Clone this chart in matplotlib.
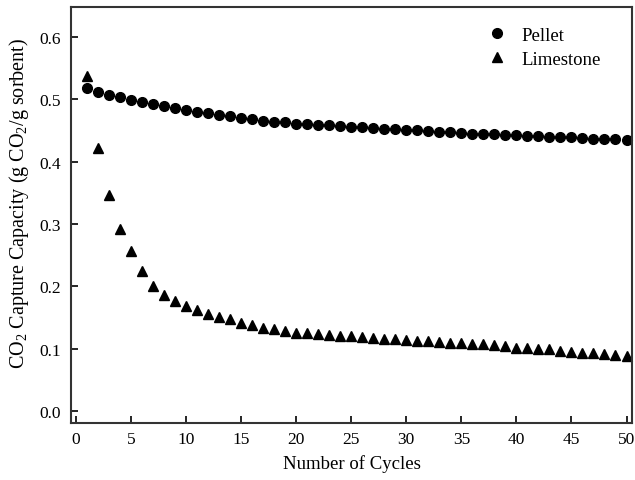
import numpy as np
import matplotlib
matplotlib.use('Agg')
import matplotlib.pyplot as plt

plt.rcParams['font.family'] = ['Liberation Serif', 'DejaVu Serif']
plt.rcParams['mathtext.fontset'] = 'custom'
plt.rcParams['mathtext.rm'] = 'Liberation Serif'
plt.rcParams['mathtext.it'] = 'Liberation Serif:italic'

cycles = np.arange(1, 51)

pellet = [0.518, 0.512, 0.507, 0.503, 0.499, 0.495, 0.492, 0.489, 0.486, 0.483,
          0.480, 0.478, 0.475, 0.473, 0.470, 0.468, 0.466, 0.464, 0.463, 0.461,
          0.460, 0.459, 0.458, 0.457, 0.456, 0.455, 0.454, 0.453, 0.452, 0.451,
          0.450, 0.449, 0.448, 0.447, 0.446, 0.445, 0.444, 0.444, 0.443, 0.442,
          0.441, 0.441, 0.440, 0.439, 0.439, 0.438, 0.437, 0.437, 0.436, 0.435]

limestone = [0.537, 0.422, 0.346, 0.292, 0.256, 0.225, 0.200, 0.186, 0.177, 0.169,
             0.162, 0.156, 0.151, 0.147, 0.141, 0.138, 0.134, 0.132, 0.128, 0.126,
             0.125, 0.123, 0.122, 0.121, 0.120, 0.119, 0.118, 0.116, 0.115, 0.114,
             0.113, 0.112, 0.111, 0.110, 0.109, 0.108, 0.107, 0.106, 0.104, 0.102,
             0.101, 0.100, 0.099, 0.097, 0.095, 0.094, 0.093, 0.092, 0.090, 0.089]

fig = plt.figure(figsize=(6.35, 4.81), dpi=100)
ax = fig.add_axes([0.1118, 0.1185, 0.8835, 0.8649])

ax.plot(cycles, pellet, 'o', color='black', markersize=7, label='Pellet', clip_on=False)
ax.plot(cycles, limestone, '^', color='black', markersize=7.5, label='Limestone', clip_on=False)

ax.set_xlim(-0.45, 50.5)
ax.set_ylim(-0.019, 0.648)
ax.set_xticks(np.arange(0, 51, 5))
ax.set_yticks(np.arange(0, 0.61, 0.1))
ax.yaxis.set_major_formatter(matplotlib.ticker.FormatStrFormatter('%.1f'))

ax.tick_params(direction='in', length=5, width=1.2, labelsize=12.5, top=False, right=False)
ax.tick_params(axis='x', pad=6)
ax.tick_params(axis='y', pad=7)
for s in ax.spines.values():
    s.set_linewidth(1.5)
    s.set_color('#333333')

ax.set_xlabel('Number of Cycles', fontsize=13.5, labelpad=5)
ax.set_ylabel('CO$_2$ Capture Capacity (g CO$_2$/g sorbent)', fontsize=14.5)
ax.yaxis.set_label_coords(-0.072, 0.53)

ax.legend(loc='upper right', frameon=False, fontsize=13.5, bbox_to_anchor=(0.975, 0.993),
          handletextpad=0.3, labelspacing=0.35)

fig.savefig('out.png', dpi=100)
